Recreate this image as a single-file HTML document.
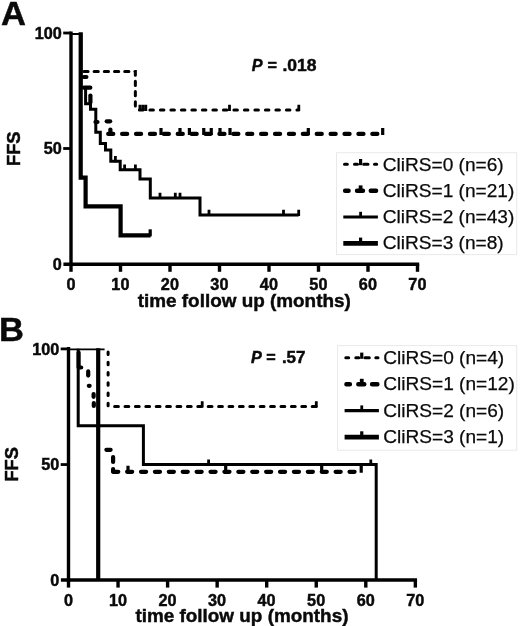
<!DOCTYPE html>
<html lang="en">
<head>
<meta charset="utf-8">
<title>FFS by CliRS</title>
<style>
html,body{margin:0;padding:0;background:#fff;}
body{width:520px;height:626px;overflow:hidden;font-family:'Liberation Sans', Arial, Helvetica, sans-serif;}
svg{display:block;}
</style>
</head>
<body>
<svg width="520" height="626" viewBox="0 0 520 626" font-family="'Liberation Sans', Arial, Helvetica, sans-serif">
<rect width="520" height="626" fill="#fff"/>
<!-- Panel A -->
<g stroke="#000" stroke-width="3.4" fill="none">
<path d="M71 31.5V265.9"/>
<path d="M63.4 264.2H419.2"/>
<path d="M63.2 148.5H71" stroke-width="2.8"/>
<path d="M63.2 33H71" stroke-width="2.8"/>
<path d="M71 264.2V271.8"/>
<path d="M120.5 264.2V271.8"/>
<path d="M170 264.2V271.8"/>
<path d="M219.5 264.2V271.8"/>
<path d="M269 264.2V271.8"/>
<path d="M318.5 264.2V271.8"/>
<path d="M368 264.2V271.8"/>
<path d="M417.5 264.2V271.8"/>
</g>
<g fill="#0a0a0a" stroke="#0a0a0a" stroke-width="0.45" font-weight="bold" font-size="15.7px">
<text transform="translate(61.8 269.6) scale(1.035 1)" text-anchor="end">0</text>
<text transform="translate(61.8 154.1) scale(1.035 1)" text-anchor="end">50</text>
<text transform="translate(61.8 38.6) scale(1.035 1)" text-anchor="end">100</text>
<text transform="translate(70.9 290) scale(1.035 1)" text-anchor="middle">0</text>
<text transform="translate(120.4 290) scale(1.035 1)" text-anchor="middle">10</text>
<text transform="translate(169.9 290) scale(1.035 1)" text-anchor="middle">20</text>
<text transform="translate(219.4 290) scale(1.035 1)" text-anchor="middle">30</text>
<text transform="translate(268.9 290) scale(1.035 1)" text-anchor="middle">40</text>
<text transform="translate(318.4 290) scale(1.035 1)" text-anchor="middle">50</text>
<text transform="translate(367.9 290) scale(1.035 1)" text-anchor="middle">60</text>
<text transform="translate(417.4 290) scale(1.035 1)" text-anchor="middle">70</text>
</g>
<text x="244.25" y="306.8" text-anchor="middle" font-weight="bold" font-size="18.9px" fill="#0a0a0a" stroke="#0a0a0a" stroke-width="0.45">time follow up (months)</text>
<text transform="translate(20.2 148.7) rotate(-90)" text-anchor="middle" font-weight="bold" font-size="18.3px" fill="#0a0a0a" stroke="#0a0a0a" stroke-width="0.45">FFS</text>
<text transform="translate(1 24.8) scale(1.035 1)" font-weight="bold" font-size="33.4px" fill="#0a0a0a" stroke="#0a0a0a" stroke-width="0.45">A</text>
<text x="251.7" y="70.5" font-weight="bold" font-size="16.2px" fill="#0a0a0a" stroke="#0a0a0a" stroke-width="0.45" font-style="italic">P</text>
<text x="267.4" y="70.5" font-weight="bold" font-size="16.2px" fill="#0a0a0a" stroke="#0a0a0a" stroke-width="0.45">=</text>
<text transform="translate(282.4 70.5) scale(1.08 1)" font-weight="bold" font-size="16.2px" fill="#0a0a0a" stroke="#0a0a0a" stroke-width="0.45">.018</text>
<path d="M71 34H80.9" stroke="#000" stroke-width="2" fill="none"/>
<path d="M83.9 71.6H135.35V109.9" stroke="#000" stroke-width="3.0" fill="none" stroke-dasharray="4.2 6" stroke-linecap="round"/>
<path d="M139.4 109.9H298.7" stroke="#000" stroke-width="3.0" fill="none" stroke-dasharray="3.5 7" stroke-linecap="round"/>
<path d="M139.9 110.9v-6.2M142.9 110.9v-6.2M145.8 110.9v-6.2M229.5 110.9v-6.2M298.8 110.9v-6.2" stroke="#000" stroke-width="2.8" fill="none"/>
<path d="M83.9 77H86.4" stroke="#000" stroke-width="4.2" fill="none" stroke-linecap="round"/>
<path d="M83.9 87.7H90.3" stroke="#000" stroke-width="4.2" fill="none" stroke-linecap="round"/>
<path d="M90.4 95.5V102.5" stroke="#000" stroke-width="4.2" fill="none" stroke-linecap="round"/>
<path d="M106.7 121.3H110.2" stroke="#000" stroke-width="4.2" fill="none" stroke-linecap="round"/>
<path d="M95.5 122H97.5" stroke="#000" stroke-width="4.2" fill="none" stroke-linecap="round"/>
<path d="M110.4 129.5V133.8" stroke="#000" stroke-width="4.2" fill="none" stroke-linecap="round"/>
<path d="M108.2 133.9H382.85" stroke="#000" stroke-width="4.2" fill="none" stroke-dasharray="5.1 8.8" stroke-linecap="round"/>
<path d="M161 134.9v-6.8M180 134.9v-6.8M189.4 134.9v-6.8M203.75 134.9v-6.8M211.25 134.9v-6.8M220 134.9v-6.8M230 134.9v-6.8M308.3 134.9v-6.8M382.7 134.9v-6.8" stroke="#000" stroke-width="3.2" fill="none"/>
<path d="M80.9 33.2V87.5H85.6V103.8H90.5V109.2H95.8V132.3H100.3V143.5H105.5V150H110.8V161.2H120.2V169.7H140V179H150.3V198H200V215H298.7" stroke="#000" stroke-width="3.0" fill="none"/>
<path d="M115.4 162.2v-6.2M124.6 170.7v-6.2M135.4 170.7v-6.2M160 199v-6.2M175.3 199v-6.2M180 199v-6.2M209 216v-6.2M283.5 216v-6.2M298.7 216v-6.2" stroke="#000" stroke-width="2.8" fill="none"/>
<path d="M80.7 32.2V177.57H85.6V206.45H120.6V235.32H150.6" stroke="#000" stroke-width="4.2" fill="none"/>
<path d="M150.2 236.32v-7" stroke="#000" stroke-width="3.2" fill="none"/>
<rect x="336.5" y="152.7" width="180.2" height="101.9" fill="#fff" stroke="#e9e9e9" stroke-width="1"/>
<path d="M344.5 164.2H347.35M354.5 164.2H357.5M363.7 164.2H368M374.5 164.2H376.7" stroke="#000" stroke-width="3.0" fill="none" stroke-linecap="round"/>
<path d="M360.6 165.2V159" stroke="#000" stroke-width="3.2" fill="none"/>
<text x="382.7" y="170.6" font-size="19.1px" fill="#0a0a0a" stroke="#0a0a0a" stroke-width="0.25">CliRS=0 (n=6)</text>
<path d="M345.1 190.8H348.6M357 190.8H363M370.75 190.8H376.1" stroke="#000" stroke-width="4.4" fill="none" stroke-linecap="round"/>
<path d="M360.6 191.8V185.4" stroke="#000" stroke-width="3.8" fill="none"/>
<text x="382.7" y="196.7" font-size="19.1px" fill="#0a0a0a" stroke="#0a0a0a" stroke-width="0.25">CliRS=1 (n=21)</text>
<path d="M343.3 217H377.9" stroke="#000" stroke-width="3.1" fill="none"/>
<path d="M360.6 218V211.8" stroke="#000" stroke-width="2.8" fill="none"/>
<text x="382.7" y="222.9" font-size="19.1px" fill="#0a0a0a" stroke="#0a0a0a" stroke-width="0.25">CliRS=2 (n=43)</text>
<path d="M343.3 243.4H377.9" stroke="#000" stroke-width="4.7" fill="none"/>
<path d="M360.6 244.4V237.6" stroke="#000" stroke-width="3.2" fill="none"/>
<text x="382.7" y="249.1" font-size="19.1px" fill="#0a0a0a" stroke="#0a0a0a" stroke-width="0.25">CliRS=3 (n=8)</text>
<!-- Panel B -->
<g stroke="#000" stroke-width="3.4" fill="none">
<path d="M68.5 347V581.7"/>
<path d="M60.9 580H417.05"/>
<path d="M60.7 464.55H68.5" stroke-width="2.8"/>
<path d="M60.7 348.9H68.5" stroke-width="2.8"/>
<path d="M68.5 580V587.6"/>
<path d="M118.05 580V587.6"/>
<path d="M167.6 580V587.6"/>
<path d="M217.15 580V587.6"/>
<path d="M266.7 580V587.6"/>
<path d="M316.25 580V587.6"/>
<path d="M365.8 580V587.6"/>
<path d="M415.35 580V587.6"/>
</g>
<g fill="#0a0a0a" stroke="#0a0a0a" stroke-width="0.45" font-weight="bold" font-size="15.7px">
<text transform="translate(59.3 585.8) scale(1.035 1)" text-anchor="end">0</text>
<text transform="translate(59.3 470.15) scale(1.035 1)" text-anchor="end">50</text>
<text transform="translate(59.3 354.5) scale(1.035 1)" text-anchor="end">100</text>
<text transform="translate(68.4 605.8) scale(1.035 1)" text-anchor="middle">0</text>
<text transform="translate(117.95 605.8) scale(1.035 1)" text-anchor="middle">10</text>
<text transform="translate(167.5 605.8) scale(1.035 1)" text-anchor="middle">20</text>
<text transform="translate(217.05 605.8) scale(1.035 1)" text-anchor="middle">30</text>
<text transform="translate(266.6 605.8) scale(1.035 1)" text-anchor="middle">40</text>
<text transform="translate(316.15 605.8) scale(1.035 1)" text-anchor="middle">50</text>
<text transform="translate(365.7 605.8) scale(1.035 1)" text-anchor="middle">60</text>
<text transform="translate(415.25 605.8) scale(1.035 1)" text-anchor="middle">70</text>
</g>
<text x="241.93" y="621.5" text-anchor="middle" font-weight="bold" font-size="18.9px" fill="#0a0a0a" stroke="#0a0a0a" stroke-width="0.45">time follow up (months)</text>
<text transform="translate(17.7 464.35) rotate(-90)" text-anchor="middle" font-weight="bold" font-size="18.3px" fill="#0a0a0a" stroke="#0a0a0a" stroke-width="0.45">FFS</text>
<text transform="translate(-0.9 340.8) scale(1.035 1)" font-weight="bold" font-size="33.4px" fill="#0a0a0a" stroke="#0a0a0a" stroke-width="0.45">B</text>
<text x="251" y="363.2" font-weight="bold" font-size="16.2px" fill="#0a0a0a" stroke="#0a0a0a" stroke-width="0.45" font-style="italic">P</text>
<text x="266.3" y="363.2" font-weight="bold" font-size="16.2px" fill="#0a0a0a" stroke="#0a0a0a" stroke-width="0.45">=</text>
<text transform="translate(281.9 363.2) scale(1.05 1)" font-weight="bold" font-size="16.2px" fill="#0a0a0a" stroke="#0a0a0a" stroke-width="0.45">.57</text>
<path d="M68.5 349.3H104.6" stroke="#000" stroke-width="1.8" fill="none"/>
<path d="M108.1 351.9V406.4" stroke="#000" stroke-width="3.0" fill="none" stroke-dasharray="2.6 7.65" stroke-linecap="round"/>
<path d="M114.6 406.4H316.25" stroke="#000" stroke-width="3.0" fill="none" stroke-dasharray="3.8 6.6" stroke-linecap="round"/>
<path d="M202.2 407.4v-6.2M316.3 407.4v-6.2" stroke="#000" stroke-width="2.8" fill="none"/>
<path d="M78.6 352.5V367.5H81.2" stroke="#000" stroke-width="4.2" fill="none" stroke-linecap="round" stroke-linejoin="round"/>
<path d="M88.2 371.4V375.6" stroke="#000" stroke-width="4.2" fill="none" stroke-linecap="round" stroke-linejoin="round"/>
<path d="M88.8 385.8H89.6" stroke="#000" stroke-width="4.2" fill="none" stroke-linecap="round" stroke-linejoin="round"/>
<path d="M93.6 394V396.8" stroke="#000" stroke-width="4.2" fill="none" stroke-linecap="round" stroke-linejoin="round"/>
<path d="M93.8 403V406" stroke="#000" stroke-width="4.2" fill="none" stroke-linecap="round" stroke-linejoin="round"/>
<path d="M106.4 449.8H110.6" stroke="#000" stroke-width="4.2" fill="none" stroke-linecap="round" stroke-linejoin="round"/>
<path d="M113.1 457V462" stroke="#000" stroke-width="4.2" fill="none" stroke-linecap="round" stroke-linejoin="round"/>
<path d="M113.1 469V471.6" stroke="#000" stroke-width="4.2" fill="none" stroke-linecap="round" stroke-linejoin="round"/>
<path d="M113.2 471.8H361.5" stroke="#000" stroke-width="4.2" fill="none" stroke-dasharray="5.1 8.8" stroke-linecap="round"/>
<path d="M128 472.8v-7M225.7 472.8v-7M321.7 472.8v-7M361.2 472.8v-7" stroke="#000" stroke-width="3.2" fill="none"/>
<path d="M78.2 348.7V425.7H143.4V464.6H376.2V580" stroke="#000" stroke-width="3.0" fill="none"/>
<path d="M208.6 465.6v-6.2M370.8 465.6v-6.2" stroke="#000" stroke-width="2.8" fill="none"/>
<path d="M98.2 348.2V580" stroke="#000" stroke-width="4.2" fill="none"/>
<rect x="337.6" y="345.6" width="179.1" height="104.6" fill="#fff" stroke="#e9e9e9" stroke-width="1"/>
<path d="M345.8 357.8H348.65M355.8 357.8H358.8M365 357.8H369.3M375.8 357.8H378" stroke="#000" stroke-width="3.0" fill="none" stroke-linecap="round"/>
<path d="M361.75 358.8V352.6" stroke="#000" stroke-width="3.2" fill="none"/>
<text x="383.2" y="364" font-size="19.1px" fill="#0a0a0a" stroke="#0a0a0a" stroke-width="0.25">CliRS=0 (n=4)</text>
<path d="M346.4 384.2H349.9M358.3 384.2H364.3M372.05 384.2H377.4" stroke="#000" stroke-width="4.4" fill="none" stroke-linecap="round"/>
<path d="M361.75 385.2V378.8" stroke="#000" stroke-width="3.8" fill="none"/>
<text x="383.2" y="390.2" font-size="19.1px" fill="#0a0a0a" stroke="#0a0a0a" stroke-width="0.25">CliRS=1 (n=12)</text>
<path d="M344.6 410.6H378.9" stroke="#000" stroke-width="3.1" fill="none"/>
<path d="M361.75 411.6V405.4" stroke="#000" stroke-width="2.8" fill="none"/>
<text x="383.2" y="416.6" font-size="19.1px" fill="#0a0a0a" stroke="#0a0a0a" stroke-width="0.25">CliRS=2 (n=6)</text>
<path d="M344.6 437.1H378.9" stroke="#000" stroke-width="4.7" fill="none"/>
<path d="M361.75 438.1V431.3" stroke="#000" stroke-width="3.2" fill="none"/>
<text x="383.2" y="443" font-size="19.1px" fill="#0a0a0a" stroke="#0a0a0a" stroke-width="0.25">CliRS=3 (n=1)</text>
</svg>
</body>
</html>
